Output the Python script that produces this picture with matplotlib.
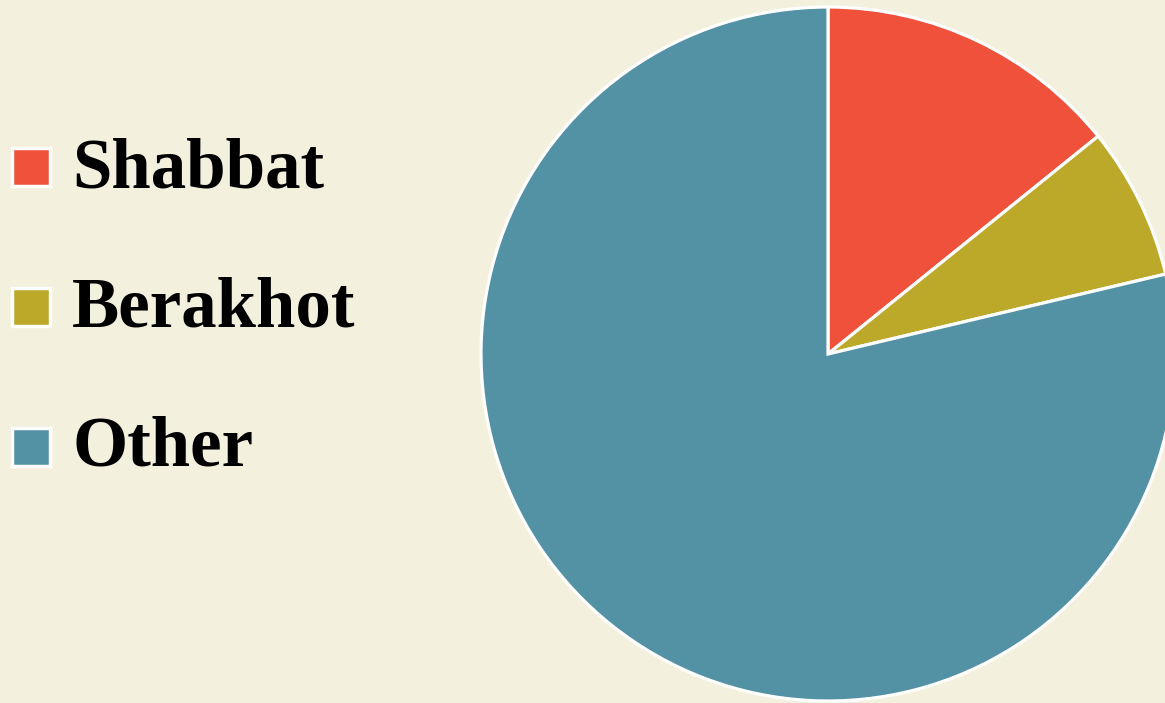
import matplotlib
matplotlib.use("Agg")
import matplotlib.pyplot as plt
from matplotlib.patches import Rectangle

labels = ["Shabbat", "Berakhot", "Other"]
values = [14.2, 7.1, 78.7]
colors = ["#EF513A", "#BCA829", "#5391A5"]
bg = "#F4F0DE"

W, H = 1165, 703
fig = plt.figure(figsize=(W / 100, H / 100), dpi=100, facecolor=bg)

cx, cy, r = 828, 354, 347
pad = 1.03
ax = fig.add_axes([(cx - r * pad) / W, (H - cy - r * pad) / H, 2 * r * pad / W, 2 * r * pad / H])
ax.set_facecolor(bg)
ax.pie(values, colors=colors, startangle=90, counterclock=False, radius=1,
       wedgeprops=dict(edgecolor="white", linewidth=2.3))
ax.set_xlim(-pad, pad)
ax.set_ylim(-pad, pad)
ax.set_aspect("equal")
ax.axis("off")

# legend
sq = 38
for i, (lab, col) in enumerate(zip(labels, colors)):
    yc = 167 + i * 140
    fig.patches.append(Rectangle((12 / W, (H - yc - sq / 2) / H), sq / W, sq / H,
                                 transform=fig.transFigure, facecolor=col,
                                 edgecolor="white", linewidth=2.5))
    fig.text(72 / W, (H - (187 + i * 139.5)) / H, lab, fontsize=51,
             fontfamily="Liberation Serif", fontweight="bold", color="black",
             va="baseline", ha="left")

fig.savefig("out.png", dpi=100, facecolor=bg)
